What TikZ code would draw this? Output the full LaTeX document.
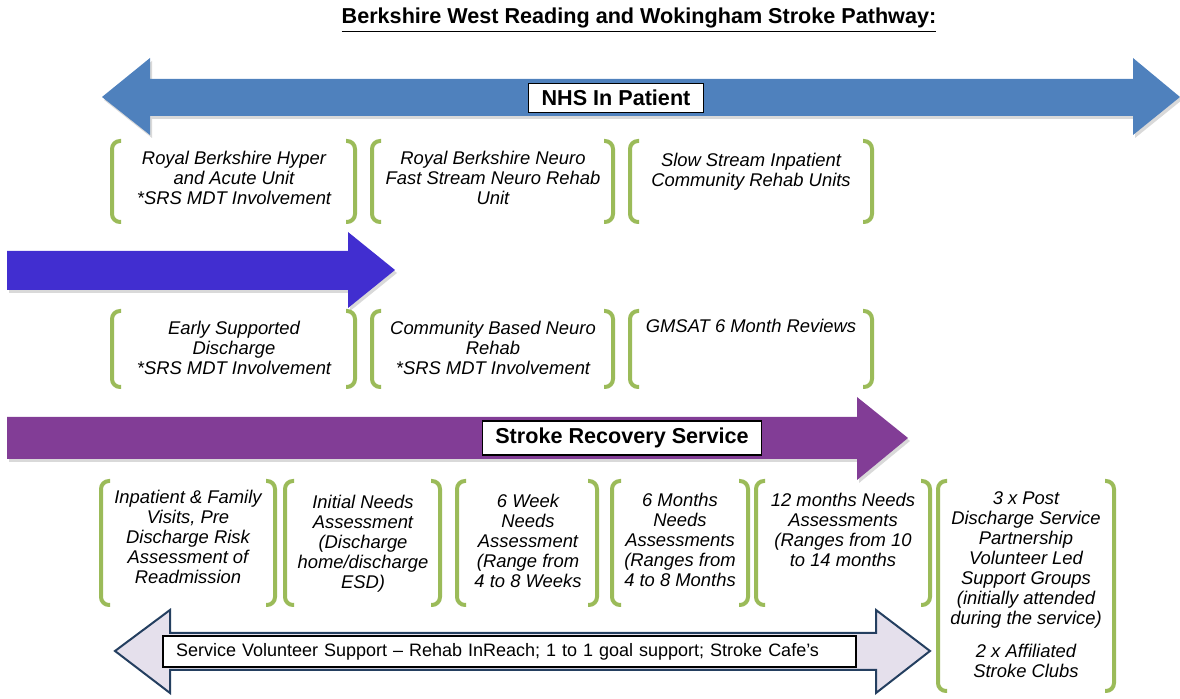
\documentclass[tikz,border=0pt]{standalone}
\usepackage{fontspec}
\setmainfont{Liberation Sans}
\usepackage{tikz}
\usetikzlibrary{shadows}

\definecolor{nhsblu}{RGB}{79,129,189}
\definecolor{viola}{RGB}{65,46,208}
\definecolor{porpora}{RGB}{130,61,150}
\definecolor{verde}{RGB}{155,187,89}
\definecolor{lilla}{RGB}{229,224,236}
\definecolor{navy}{RGB}{36,63,96}

\tikzset{
    brk/.style={draw=verde, line width=2pt, rounded corners=4pt},
    txt/.style={anchor=north, align=center, inner sep=0pt, font=\fontsize{9.2}{10}\selectfont\itshape},
    lbl/.style={draw, fill=white, line width=0.8pt, inner xsep=6.5pt, minimum height=13.5pt, font=\fontsize{10.8}{12}\selectfont\bfseries},
    ombra/.style={drop shadow={opacity=0.3, shadow xshift=1pt, shadow yshift=-1.5pt}}
}

\begin{document}
\begin{tikzpicture}[x=0.5pt, y=-0.5pt]
        \useasboundingbox (0,0) rectangle (1180,699);

        % Titolo
        \node[font=\fontsize{10.8}{12}\selectfont\bfseries] (titolo) at (639,20) {\underline{Berkshire West Reading and Wokingham Stroke Pathway:}};

        % Frecce
        \fill[nhsblu, ombra] (102,97) -- (150,58) -- (150,79) -- (1133,79) -- (1133,58) -- (1180,97) -- (1133,135) -- (1133,116) -- (150,116) -- (150,135) -- cycle; % NHS
        \fill[viola, ombra] (7,251) -- (348,251) -- (348,232) -- (395,270) -- (348,308) -- (348,290) -- (7,290) -- cycle;
        \fill[porpora, ombra] (7,417) -- (857,417) -- (857,397) -- (908,438) -- (857,480) -- (857,459) -- (7,459) -- cycle;
        \draw[navy, fill=lilla, line width=1pt] (115,651) -- (170,610) -- (170,633) -- (876,633) -- (876,610) -- (930,651) -- (876,693) -- (876,670) -- (170,670) -- (170,693) -- cycle; % volontari

        \node[lbl] (nhs) at (616,98) {NHS In Patient};
        \node[lbl] (srs) at (622,438) {Stroke Recovery Service};
        \node[draw, fill=white, line width=0.6pt, inner xsep=6.5pt, minimum height=15.5pt, text width=333.5pt, align=left, font=\fontsize{9}{10}\selectfont] (volontari) at (509.5,651.5) {Service Volunteer Support -- Rehab InReach; 1 to 1 goal support; Stroke Cafe’s};

        % Parentesi
        \foreach \xa/\xb/\ya/\yb in {112/355/141/222, 372/613/141/222, 630/872/141/222,
                                     112/355/311/387, 372/613/311/387, 630/872/311/387,
                                     101/275/481/605, 285/440/481/605, 457/597/481/605,
                                     612/748/481/605, 756/930/481/605, 938/1114/481/691}{
            \draw[brk] (\xa+9,\ya) -- (\xa,\ya) -- (\xa,\yb) -- (\xa+9,\yb);
            \draw[brk] (\xb-9,\ya) -- (\xb,\ya) -- (\xb,\yb) -- (\xb-9,\yb);
        }

        % Riga 1
        \node[txt] (hyper) at (234,151) {Royal Berkshire Hyper\\and Acute Unit\\*SRS MDT Involvement};
        \node[txt] (fast) at (493,151) {Royal Berkshire Neuro\\Fast Stream Neuro Rehab\\Unit};
        \node[txt] (slow) at (751,153) {Slow Stream Inpatient\\Community Rehab Units};

        % Riga 2
        \node[txt] (esd) at (234,321) {Early Supported\\Discharge\\*SRS MDT Involvement};
        \node[txt] (cbnr) at (493,321) {Community Based Neuro\\Rehab\\*SRS MDT Involvement};
        \node[txt] (gmsat) at (751,319) {GMSAT 6 Month Reviews};

        % Riga 3
        \node[txt] (visite) at (188,490) {Inpatient \& Family\\Visits, Pre\\Discharge Risk\\Assessment of\\Readmission};
        \node[txt] (iniziale) at (363,495) {Initial Needs\\Assessment\\(Discharge\\home/discharge\\ESD)};
        \node[txt] (settimane) at (528,494) {6 Week\\Needs\\Assessment\\(Range from\\4 to 8 Weeks};
        \node[txt] (mesi) at (680,493) {6 Months\\Needs\\Assessments\\(Ranges from\\4 to 8 Months};
        \node[txt] (anno) at (843,493) {12 months Needs\\Assessments\\(Ranges from 10\\to 14 months};
        \node[txt] (gruppi) at (1026,491) {3 x Post\\Discharge Service\\Partnership\\Volunteer Led\\Support Groups\\(initially attended\\during the service)\\[6.5pt]2 x Affiliated\\Stroke Clubs};
\end{tikzpicture}
\end{document}
